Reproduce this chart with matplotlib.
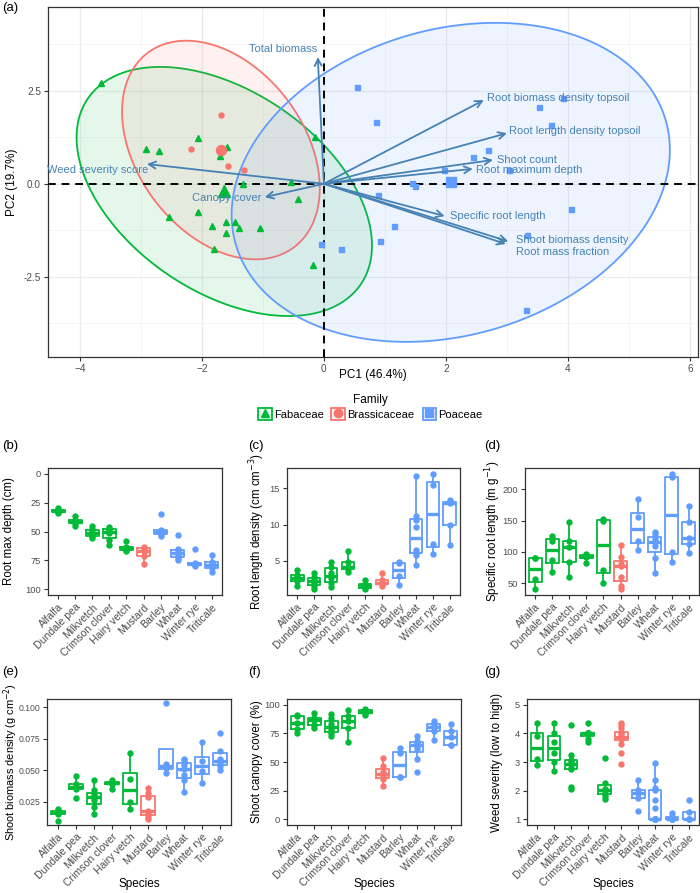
import numpy as np
import matplotlib.pyplot as plt
from matplotlib.lines import Line2D
from matplotlib.patches import Rectangle
from matplotlib.legend_handler import HandlerTuple
from matplotlib.colors import to_rgba

plt.rcParams['font.family'] = ['Liberation Sans', 'DejaVu Sans']

GREEN = "#00BA38"
RED = "#F8766D"
BLUE = "#619CFF"
ARROW = "steelblue"
TICK = "#4D4D4D"

# ---------------- PCA data (panel a) ----------------
fab_pc1 = [-3.66, -2.92, -2.70, -2.07, -1.59, -1.70, -0.15, -1.33, -0.54, -2.54,
           -2.07, -1.84, -1.61, -1.46, -1.39, -1.61, -1.05, -1.80, -0.43, -0.18]
fab_pc2 = [2.71, 0.93, 0.88, 1.23, 0.99, 0.74, 1.26, -0.01, 0.05, -0.90,
           -0.76, -1.14, -1.03, -1.03, -1.19, -1.33, -1.19, -1.76, -0.41, -2.19]
bra_pc1 = [-1.69, -2.18, -1.57, -1.31]
bra_pc2 = [1.85, 0.93, 0.48, 0.37]
poa_pc1 = [0.54, 0.85, 3.52, 3.72, 3.92, 2.69, 2.44, 1.97, 3.03, 1.44,
           1.49, 0.89, 4.05, 1.15, 3.33, 0.92, -0.05, 0.28, 3.31]
poa_pc2 = [2.60, 1.66, 2.06, 1.58, 2.30, 0.91, 0.72, 0.37, 0.37, 0.02,
           -0.06, -0.30, -0.68, -1.14, -1.38, -1.54, -1.62, -1.76, -3.40]

# ellipse half-extents along PC1 / PC2 and their correlation
ell_x = [2.42, 1.62, 3.59]
ell_y = [3.35, 2.94, 4.29]
ell_r = [-0.434, -0.35, 0.203]

families = ["Fabaceae", "Brassicaceae", "Poaceae"]

# variable loadings (arrow tips)
var_names = ["Total biomass", "Root biomass density topsoil", "Root length density topsoil",
             "Shoot count", "Root maximum depth", "Specific root length",
             "Shoot biomass density", "Root mass fraction", "Weed severity score",
             "Canopy cover"]
var_pc1 = [-0.10, 2.62, 3.00, 2.77, 2.44, 1.98, 3.02, 2.98, -2.90, -0.97]
var_pc2 = [3.41, 2.25, 1.36, 0.64, 0.40, -0.87, -1.55, -1.62, 0.53, -0.36]

# ---------------- Species box plots ----------------
species = ["Alfalfa", "Dundale pea", "Milkvetch", "Crimson clover", "Hairy vetch",
           "Mustard", "Barley", "Wheat", "Winter rye", "Triticale"]
species_family = ["Fabaceae"] * 5 + ["Brassicaceae"] + ["Poaceae"] * 4

root_depth = [
    [30, 31, 32, 33, 34],
    [37, 40, 42, 43, 45],
    [45, 48, 50, 52, 54, 56],
    [46, 48, 49, 51, 57, 62],
    [58, 63, 64, 66, 67],
    [63, 64, 67, 71, 78],
    [35, 49, 50, 52, 54],
    [53, 65, 67, 69, 71, 73, 75],
    [65, 77, 78, 79, 80],
    [70, 76, 78, 80, 82, 85],
]
root_length = [
    [1.5, 2.2, 2.5, 2.8, 3.1, 3.8],
    [1.1, 1.5, 2.0, 2.4, 2.8, 3.3],
    [1.4, 2.0, 2.6, 3.3, 4.2, 4.8],
    [3.5, 3.9, 4.1, 4.9, 6.4],
    [1.1, 1.3, 1.6, 1.8, 2.4],
    [1.6, 1.8, 2.0, 2.4, 3.3],
    [1.7, 2.9, 4.7, 4.8],
    [4.4, 5.8, 6.2, 6.5, 9.7, 10.6, 11.2, 16.7],
    [6.0, 7.3, 15.5, 17.0],
    [7.2, 10.0, 13.0, 13.1, 13.4],
]
spec_root_length = [
    [40, 56, 90, 90],
    [68, 87, 118, 126],
    [60, 84, 108, 117, 147],
    [82, 92, 95, 97],
    [50, 71, 150, 153],
    [40, 46, 60, 78, 81, 91, 111],
    [103, 118, 155, 185],
    [66, 90, 110, 116, 120, 129, 132],
    [84.5, 100, 219, 224],
    [98, 112, 122, 147, 173],
]
shoot_biomass = [
    [0.010, 0.015, 0.017, 0.018, 0.019],
    [0.028, 0.035, 0.037, 0.039, 0.045],
    [0.015, 0.021, 0.026, 0.029, 0.030, 0.034, 0.042],
    [0.035, 0.039, 0.040, 0.041, 0.042],
    [0.019, 0.025, 0.043, 0.0636],
    [0.011, 0.013, 0.015, 0.017, 0.018, 0.029, 0.032, 0.036],
    [0.048, 0.052, 0.055, 0.103],
    [0.033, 0.042, 0.046, 0.051, 0.054, 0.058, 0.059],
    [0.040, 0.049, 0.057, 0.0724],
    [0.050, 0.053, 0.056, 0.059, 0.065, 0.0797],
]
canopy_cover = [
    [75.6, 79, 84, 90, 91.4],
    [79.6, 82, 87, 88, 92.5],
    [72.7, 75, 78, 80.5, 83, 88.5, 92],
    [67.5, 80, 85.6, 90.5, 95.4],
    [91.4, 93, 94, 95, 96.3],
    [29.3, 35, 37, 39.4, 41, 46.5, 53.7],
    [36.8, 36.8, 58, 61.8],
    [41.7, 53, 61, 64, 66.5, 67, 68.5, 72.4],
    [69.5, 77, 80.5, 83, 85.6],
    [65.2, 65.2, 71.8, 76.7, 83.3],
]
weed_severity = [
    [2.9, 3.1, 3.9, 4.35],
    [2.67, 3.0, 3.3, 3.7, 4.0, 4.35],
    [2.06, 2.13, 2.75, 2.8, 2.93, 3.0, 3.07, 3.24, 4.3],
    [3.7, 3.8, 4.0, 4.0, 4.0, 4.0, 4.35],
    [1.7, 1.83, 2.0, 2.05, 2.26, 3.13],
    [2.93, 3.3, 3.62, 3.8, 3.85, 3.87, 3.9, 4.0, 4.0, 4.2, 4.3, 4.35],
    [1.29, 1.75, 1.92, 2.03, 2.36],
    [1.0, 1.0, 1.0, 1.0, 1.0, 1.0, 1.0, 1.4, 1.69, 2.03, 2.1, 2.36, 2.98],
    [1.0, 1.0, 1.0, 1.0, 1.1, 1.23],
    [1.0, 1.0, 1.0, 1.25, 1.67],
]

fam_color = {"Fabaceae": GREEN, "Brassicaceae": RED, "Poaceae": BLUE}
fam_marker = {"Fabaceae": "^", "Brassicaceae": "o", "Poaceae": "s"}

# label placement (pixel offsets from arrow tip, alignment)
label_style = {
    "Total biomass": (-1, 8, "right"),
    "Root biomass density topsoil": (3, 2, "left"),
    "Root length density topsoil": (2, 2, "left"),
    "Shoot count": (4, 0, "left"),
    "Root maximum depth": (3, -1, "left"),
    "Specific root length": (5, 0, "left"),
    "Shoot biomass density": (8, 1, "left"),
    "Root mass fraction": (10, -8, "left"),
    "Weed severity score": (1, -6, "right"),
    "Canopy cover": (-3, -1, "right"),
}

FIG_W, FIG_H = 700, 893
fig = plt.figure(figsize=(7, 8.93), dpi=100)

# ---------------- panel (a) ----------------
ax = fig.add_axes([0.0686, 0.6002, 0.9286, 0.3918])
pts = [(fab_pc1, fab_pc2), (bra_pc1, bra_pc2), (poa_pc1, poa_pc2)]
t = np.linspace(0, 2 * np.pi, 300)
for i, fam in enumerate(families):
    col = fam_color[fam]
    px, py = np.array(pts[i][0]), np.array(pts[i][1])
    cx, cy = px.mean(), py.mean()
    r = ell_r[i]
    ex = cx + ell_x[i] * np.cos(t)
    ey = cy + ell_y[i] * (r * np.cos(t) + np.sqrt(1 - r ** 2) * np.sin(t))
    ax.fill(ex, ey, facecolor=to_rgba(col, 0.1), edgecolor=col, lw=1.3, zorder=2)

ax.axhline(0, color="black", ls=(0, (4, 3)), lw=1.4, zorder=3)
ax.axvline(0, color="black", ls=(0, (4, 3)), lw=1.4, zorder=3)

for i, fam in enumerate(families):
    col = fam_color[fam]
    mk = fam_marker[fam]
    px, py = np.array(pts[i][0]), np.array(pts[i][1])
    ms = 4.2 if mk == "^" else 3.6
    ax.plot(px, py, mk, color=col, ms=ms, ls="none", zorder=4)
    ax.plot(px.mean(), py.mean(), mk, color=col, ms=ms * 2, ls="none", zorder=4)

for name, vx, vy in zip(var_names, var_pc1, var_pc2):
    ax.annotate("", xy=(vx, vy), xytext=(0, 0),
                arrowprops=dict(arrowstyle="->,head_length=0.5,head_width=0.25",
                                color=ARROW, lw=1.3, shrinkA=0, shrinkB=0), zorder=5)
    dx, dy, ha = label_style[name]
    ax.annotate(name, xy=(vx, vy), xytext=(dx, dy), textcoords="offset pixels",
                ha=ha, va="center", color=ARROW, fontsize=8, zorder=6)

ax.set_xlim(-4.52, 6.13)
ax.set_ylim(-4.66, 4.75)
ax.set_xticks([-4, -2, 0, 2, 4, 6])
ax.set_yticks([-2.5, 0.0, 2.5])
ax.set_yticklabels(["-2.5", "0.0", "2.5"])
ax.set_xticks([-3, -1, 1, 3, 5], minor=True)
ax.set_yticks([-3.75, -1.25, 1.25, 3.75], minor=True)
ax.grid(which="major", color="#EBEBEB", lw=0.9, zorder=0)
ax.grid(which="minor", color="#F4F4F4", lw=0.6, zorder=0)
ax.set_axisbelow(True)
ax.tick_params(which="minor", length=0)
ax.tick_params(which="major", colors="#333333", labelcolor=TICK, labelsize=7.2,
               length=3, pad=2)
for s in ax.spines.values():
    s.set_color("#333333")
    s.set_linewidth(0.9)
ax.set_xlabel("PC1 (46.4%)", fontsize=8.5)
ax.set_ylabel("PC2 (19.7%)", fontsize=8.5)
ax.xaxis.set_label_coords(0.5, -(375 - 357) / 350, transform=ax.transAxes)
ax.yaxis.set_label_coords(-(48 - 12) / 650, 0.5, transform=ax.transAxes)
ax.xaxis.label.set_va("center")
ax.yaxis.label.set_va("center")

# legend
handles = []
for fam in families:
    col = fam_color[fam]
    box = Rectangle((0, 0), 1, 1, facecolor=to_rgba(col, 0.1), edgecolor=col, lw=1.3)
    pt = Line2D([], [], marker=fam_marker[fam], color=col, ls="none", ms=6)
    handles.append((box, pt))
fig.legend(handles, families, handler_map={tuple: HandlerTuple(ndivide=1, pad=0)},
           ncol=3, title="Family", loc="center", bbox_to_anchor=(0.529, 0.5445),
           frameon=False, handlelength=1.25, handleheight=1.25, handletextpad=0.2,
           columnspacing=0.7, fontsize=8, title_fontsize=8.5, borderpad=0.2,
           labelspacing=0.2)

# ---------------- box plot panels ----------------
def box_panel(rect_px, values, ylabel, ylim, yticks, ylab_x, yticklabels=None,
              xlabel=None, ytick_size=6.7, ylab_size=8.3):
    left, top, right, bottom = rect_px
    bx = fig.add_axes([left / FIG_W, 1 - bottom / FIG_H,
                       (right - left) / FIG_W, (bottom - top) / FIG_H])
    pos = np.arange(1, len(species) + 1)
    for i, vals in enumerate(values):
        col = fam_color[species_family[i]]
        bx.boxplot([vals], positions=[pos[i]], widths=0.75, showfliers=False,
                   showcaps=False, patch_artist=False,
                   boxprops=dict(color=col, lw=1.3),
                   whiskerprops=dict(color=col, lw=1.3),
                   medianprops=dict(color=col, lw=2.4))
        bx.plot([pos[i]] * len(vals), vals, "o", color=col, ms=3.6, ls="none", zorder=3)
    bx.set_xlim(0.4, len(species) + 0.6)
    bx.set_ylim(*ylim)
    bx.set_yticks(yticks)
    if yticklabels is not None:
        bx.set_yticklabels(yticklabels)
    bx.set_xticks(pos)
    bx.set_xticklabels(species, rotation=45, ha="right", rotation_mode="anchor")
    bx.tick_params(colors="#333333", labelcolor=TICK, length=3, pad=2)
    bx.tick_params(axis="y", labelsize=ytick_size)
    bx.tick_params(axis="x", labelsize=7.6)
    for s in bx.spines.values():
        s.set_color("#333333")
        s.set_linewidth(0.9)
    bx.set_ylabel(ylabel, fontsize=ylab_size)
    bx.yaxis.set_label_coords((ylab_x - left) / (right - left), 0.5,
                              transform=bx.transAxes)
    bx.yaxis.label.set_va("center")
    if xlabel:
        bx.set_xlabel(xlabel, fontsize=8.5)
        bx.xaxis.set_label_coords(0.5, -(884 - bottom) / (bottom - top),
                                  transform=bx.transAxes)
        bx.xaxis.label.set_va("center")
    return bx

box_panel((48, 468, 222, 595), root_depth, "Root max depth (cm)",
          (105, -5), [0, 25, 50, 75, 100], 9)
box_panel((287, 468, 460, 595), root_length,
          "Root length density (cm cm$^{-3}$)", (0.3, 17.8), [5, 10, 15], 257)
box_panel((525, 468, 699, 595), spec_root_length,
          "Specific root length (m g$^{-1}$)", (31, 234), [50, 100, 150, 200], 493)
box_panel((47, 699, 231, 825), shoot_biomass,
          "Shoot biomass density (g cm$^{-2}$)", (0.0065, 0.1065),
          [0.025, 0.05, 0.075, 0.1], 10.5, ["0.025", "0.050", "0.075", "0.100"],
          xlabel="Species", ytick_size=6.2, ylab_size=7.9)
box_panel((287, 699, 461, 825), canopy_cover, "Shoot canopy cover (%)",
          (-5, 105), [0, 25, 50, 75, 100], 257, xlabel="Species")
box_panel((527, 699, 699, 825), weed_severity,
          "Weed severity (low to high)", (0.8, 5.2), [1, 2, 3, 4, 5], 497,
          xlabel="Species")

# panel tags
for tag, x, y in [("(a)", 0.003, 0.991), ("(b)", 0.003, 0.500), ("(c)", 0.354, 0.500),
                  ("(d)", 0.692, 0.500), ("(e)", 0.003, 0.247), ("(f)", 0.354, 0.247),
                  ("(g)", 0.692, 0.247)]:
    fig.text(x, y, tag, fontsize=9.5, ha="left", va="center")

fig.savefig("out.png", dpi=100)
